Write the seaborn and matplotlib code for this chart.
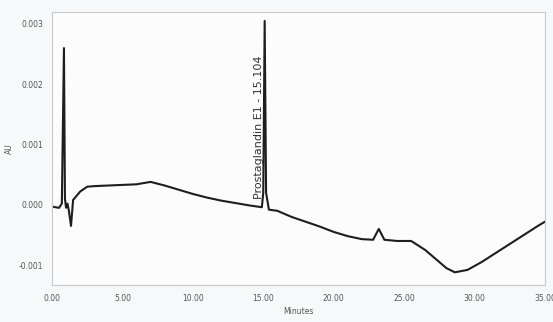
import matplotlib
matplotlib.use('Agg')
import matplotlib.pyplot as plt
import numpy as np
import pandas as pd
import seaborn as sns
from matplotlib.ticker import MultipleLocator

minutos = [0.0, 0.5, 0.7, 0.85, 0.92, 1.0, 1.1, 1.2, 1.35, 1.5, 2.0, 2.5,
           3.0, 4.0, 5.0, 6.0, 7.0, 8.0, 9.0, 10.0, 11.0, 12.0, 13.0, 14.0,
           14.9, 15.0, 15.1, 15.2, 15.4, 16.0, 17.0, 18.0, 19.0, 20.0, 21.0,
           22.0, 22.8, 23.2, 23.6, 24.5, 25.5, 26.5, 27.5, 28.0, 28.6, 29.5,
           30.5, 31.5, 32.5, 33.5, 34.5, 35.0]
au = [-0.00003, -0.00005, 0.00002, 0.0026, 0.0001, -0.00005, 0.00002,
      -0.0001, -0.00035, 0.00008, 0.00022, 0.0003, 0.00031, 0.00032,
      0.00033, 0.00034, 0.00038, 0.00032, 0.00025, 0.00018, 0.00012,
      0.00007, 0.00003, -0.00001, -0.00004, 0.0002, 0.00305, 0.0002,
      -0.00008, -0.0001, -0.0002, -0.00028, -0.00036, -0.00045, -0.00052,
      -0.00057, -0.00058, -0.0004, -0.00058, -0.0006, -0.0006, -0.00075,
      -0.00095, -0.00105, -0.00112, -0.00108, -0.00095, -0.0008, -0.00065,
      -0.0005, -0.00035, -0.00028]

xticks = [0, 5, 10, 15, 20, 25, 30, 35]
yticks = [-0.001, 0.0, 0.001, 0.002, 0.003]
pico_label = 'Prostaglandin E1 - 15.104'

df = pd.DataFrame({'Minutes': minutos, 'AU': au})

sns.set_style('white')
fig = plt.figure(figsize=(5.53, 3.22), dpi=100, facecolor='#f7f8fa')
ax = fig.add_axes([0.094, 0.115, 0.8915, 0.848])
ax.set_facecolor('#fcfcfd')

sns.lineplot(data=df, x='Minutes', y='AU', ax=ax, color='#1e1e1e', linewidth=1.5)

ax.set_xlim(0, 35)
ax.set_ylim(-0.00133, 0.0032)
ax.set_xticks(xticks)
ax.set_xticklabels(['%.2f' % t for t in xticks])
ax.set_yticks(yticks)
ax.set_yticklabels(['%.3f' % v for v in yticks])
ax.xaxis.set_minor_locator(MultipleLocator(1))
ax.yaxis.set_minor_locator(MultipleLocator(0.0002))
ax.tick_params(axis='both', which='major', labelsize=5.5, labelcolor='#555555',
               color='#999999', length=3, direction='out')
ax.tick_params(axis='both', which='minor', color='#bbbbbb', length=1.5, direction='out')
for s in ax.spines.values():
    s.set_color('#c8c8c8')
    s.set_linewidth(0.8)

ax.set_xlabel('Minutes', fontsize=5.5, color='#555555', labelpad=3)
ax.set_ylabel('AU', fontsize=5.5, color='#555555', labelpad=3)

ax.text(15.05, 0.0001, pico_label, rotation=90, fontsize=8, color='#333333',
        ha='right', va='bottom')

plt.savefig('out.png', dpi=100, facecolor=fig.get_facecolor())
